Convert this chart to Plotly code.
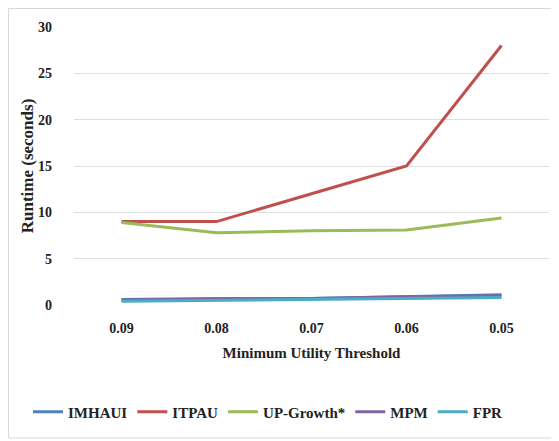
import plotly.graph_objects as go

thresholds = ["0.09", "0.08", "0.07", "0.06", "0.05"]
imhaui = [0.6, 0.7, 0.7, 0.9, 1.1]
itpau = [9.0, 9.0, 12.0, 15.0, 28.0]
upgrowth = [8.9, 7.8, 8.0, 8.1, 9.4]
mpm = [0.5, 0.6, 0.7, 0.9, 1.0]
fpr = [0.4, 0.5, 0.6, 0.7, 0.8]
yticks = [0, 5, 10, 15, 20, 25, 30]

series = [
    ("IMHAUI", imhaui, "#4F81BD"),
    ("ITPAU", itpau, "#C0504D"),
    ("UP-Growth*", upgrowth, "#9BBB59"),
    ("MPM", mpm, "#8064A2"),
    ("FPR", fpr, "#4BACC6"),
]

FAM = "Liberation Serif, Times New Roman, serif"
OFF = 8  # default page margin of the html body
W, H = 559 - OFF, 441 - OFF
L, R, T, B = 74 - OFF, 10, 27 - OFF, 136
pw = W - L - R
ph = H - T - B

fig = go.Figure()
for name, vals, col in series:
    fig.add_trace(go.Scatter(x=thresholds, y=vals, mode="lines",
                             name="<b>%s</b>" % name,
                             line=dict(color=col, width=3)))

fig.update_layout(
    width=W, height=H,
    margin=dict(l=L, r=R, t=T, b=B),
    paper_bgcolor="white", plot_bgcolor="white",
    font=dict(family=FAM, size=14, color="#222222"),
    showlegend=True,
    legend=dict(orientation="h", xref="container", x=(268 - OFF) / W,
                xanchor="center",
                yref="container", y=1 - (412 - OFF) / H, yanchor="middle",
                font=dict(size=15, family=FAM, color="#222222"),
                itemwidth=30, traceorder="normal", tracegroupgap=0),
    xaxis=dict(type="category", range=[-0.5, 4.5], showgrid=False,
               showline=False, zeroline=False, ticks="",
               tickvals=thresholds,
               ticktext=["<b>%s</b>" % t for t in thresholds],
               tickfont=dict(size=14, family=FAM), ticklabelstandoff=13,
               title=dict(text="<b>Minimum Utility Threshold</b>",
                          font=dict(size=15, family=FAM), standoff=12)),
    yaxis=dict(range=[0, 30], showgrid=True, gridcolor="#dedede",
               zeroline=False, showline=False, ticks="",
               tickvals=yticks, ticktext=["<b>%d</b>" % v for v in yticks],
               tickfont=dict(size=14, family=FAM), ticklabelstandoff=21,
               title=dict(text="<b>Runtime (seconds)</b>",
                          font=dict(size=17, family=FAM), standoff=0)),
)

# outer chart border (page coords 8..553, 8..438)
fig.add_shape(type="rect", xref="paper", yref="paper",
              x0=(0.5 - L) / pw, x1=(553 - OFF - L) / pw,
              y0=-(438 - OFF - (T + ph)) / ph,
              y1=1 + (T - 0.5) / ph,
              line=dict(color="#d9d9d9", width=1), layer="below")

fig.write_html("out.html")
